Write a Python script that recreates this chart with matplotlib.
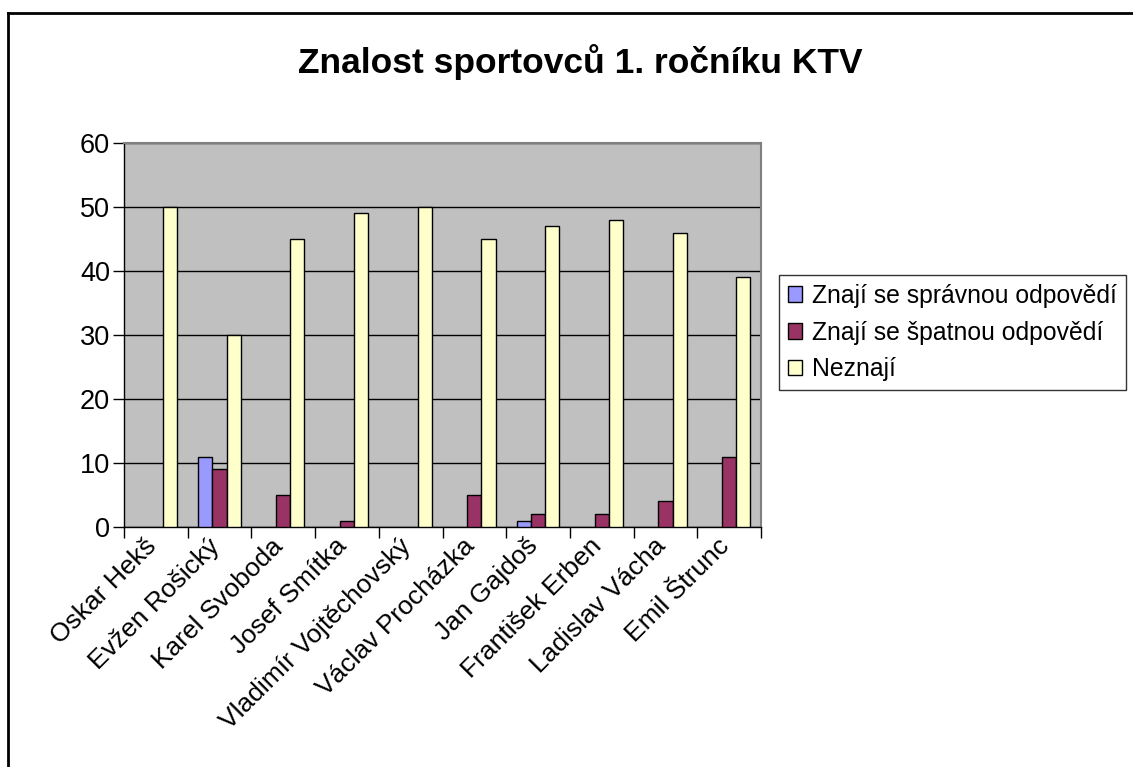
import numpy as np
import matplotlib
matplotlib.use('Agg')
from matplotlib import pyplot as plt
from matplotlib.lines import Line2D
from matplotlib.transforms import ScaledTranslation

plt.rcParams['font.family'] = ['Liberation Sans', 'DejaVu Sans']

names = ['Oskar Hekš', 'Evžen Rošický', 'Karel Svoboda', 'Josef Smítka',
         'Vladimír Vojtěchovský', 'Václav Procházka', 'Jan Gajdoš',
         'František Erben', 'Ladislav Vácha', 'Emil Štrunc']
spravne = [0, 11, 0, 0, 0, 0, 1, 0, 0, 0]
spatne = [0, 9, 5, 1, 0, 5, 2, 2, 4, 11]
neznaji = [50, 30, 45, 49, 50, 45, 47, 48, 46, 39]
series = ['Znají se správnou odpovědí', 'Znají se špatnou odpovědí', 'Neznají']
colors = ['#9999FF', '#993366', '#FFFFCC']
title = 'Znalost sportovců 1. ročníku KTV'

W, H = 1133, 767
fig = plt.figure(figsize=(W / 100, H / 100), dpi=100)
ax = fig.add_axes([124 / W, 1 - 527 / H, (761 - 124) / W, (527 - 143) / H])
ax.set_facecolor('#C0C0C0')

x = np.arange(len(names))
w = 0.222
for i, (vals, c, lab) in enumerate(zip([spravne, spatne, neznaji], colors, series)):
    bars = ax.bar(x + (i - 1) * w, vals, w, color=c, edgecolor='black', linewidth=1,
                  label=lab, zorder=3)
    # Excel draws nothing for zero values
    for b, v in zip(bars, vals):
        if v == 0:
            b.set_visible(False)

ax.set_xlim(-0.5, len(names) - 0.5)
ax.set_ylim(0, 60)
ax.set_yticks(range(0, 61, 10))
ax.yaxis.grid(True, color='black', linewidth=1, zorder=1)
ax.set_axisbelow(True)
ax.tick_params(axis='y', direction='out', length=8, width=1, labelsize=19.5, pad=2)

ax.set_xticks(np.arange(-0.5, len(names), 1))
ax.set_xticklabels([])
ax.tick_params(axis='x', which='major', direction='out', length=8, width=1, color='black')
ax.set_xticks(x, minor=True)
ax.set_xticklabels(names, minor=True, rotation=45, ha='right', va='top',
                   rotation_mode='anchor', fontsize=19)
ax.tick_params(axis='x', which='minor', length=0, pad=5)
shift = ScaledTranslation(-12 / 100, 0, fig.dpi_scale_trans)
for t in ax.get_xticklabels(minor=True):
    t.set_transform(t.get_transform() + shift)

for s in ['top', 'right']:
    ax.spines[s].set_color('#808080')
    ax.spines[s].set_linewidth(1.5)
for s in ['left', 'bottom']:
    ax.spines[s].set_color('black')
    ax.spines[s].set_linewidth(1)

fig.text(580 / W, 1 - 62 / H, title, ha='center', va='center',
         fontsize=25.5, fontweight='bold')

leg = fig.legend(loc='upper left', bbox_to_anchor=(779 / W, 1 - 275 / H),
                 fontsize=17.8, frameon=True, fancybox=False, edgecolor='black',
                 handlelength=0.6, handleheight=0.6, handletextpad=0.4,
                 borderpad=0.35, labelspacing=0.52, borderaxespad=0)
leg.get_frame().set_linewidth(1)
for h in leg.legend_handles:
    h.set_visible(True)

fig.add_artist(Line2D([8 / W, 8 / W], [0, 1 - 13 / H], color='black', linewidth=2,
                      transform=fig.transFigure))
fig.add_artist(Line2D([8 / W, 1], [1 - 13 / H, 1 - 13 / H], color='black', linewidth=2,
                      transform=fig.transFigure))

fig.savefig('out.png', dpi=100)
